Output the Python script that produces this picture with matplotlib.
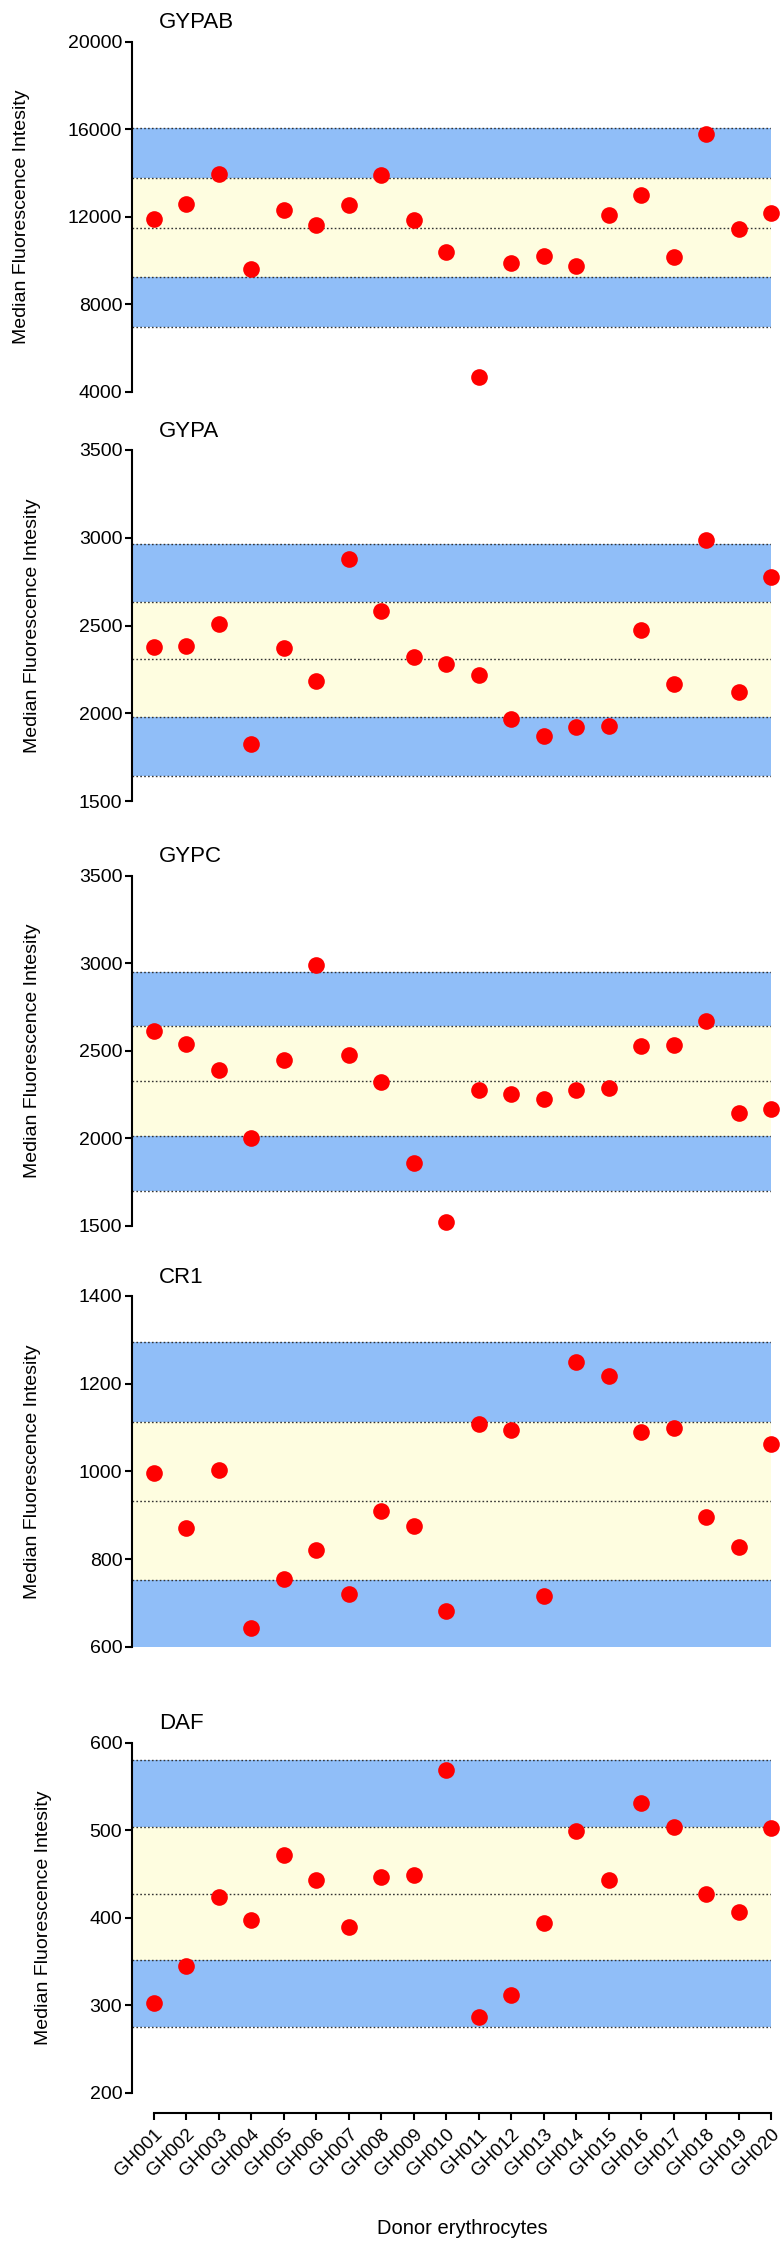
import matplotlib.pyplot as plt
from matplotlib.ticker import MultipleLocator

plt.rcParams['font.family'] = ['Liberation Sans', 'DejaVu Sans']

donors = ['GH001', 'GH002', 'GH003', 'GH004', 'GH005', 'GH006', 'GH007', 'GH008', 'GH009', 'GH010',
          'GH011', 'GH012', 'GH013', 'GH014', 'GH015', 'GH016', 'GH017', 'GH018', 'GH019', 'GH020']

# median fluorescence intensity per donor
gypab = [11900, 12600, 13950, 9600, 12300, 11600, 12550, 13900, 11850, 10400,
         4650, 9900, 10200, 9750, 12100, 13000, 10150, 15800, 11450, 12150]
gypa = [2380, 2385, 2510, 1825, 2370, 2185, 2880, 2585, 2320, 2280,
        2220, 1965, 1870, 1920, 1925, 2475, 2165, 2985, 2120, 2775]
gypc = [2615, 2537, 2390, 2002, 2446, 2988, 2478, 2324, 1860, 1523,
        2276, 2254, 2223, 2276, 2286, 2528, 2531, 2670, 2145, 2170]
cr1 = [997, 871, 1003, 643, 755, 820, 721, 910, 875, 681,
       1107, 1094, 716, 1249, 1217, 1090, 1100, 897, 828, 1063]
daf = [303, 345, 424, 397, 472, 443, 389, 446, 449, 569,
       286, 312, 394, 499, 443, 531, 504, 427, 407, 503]

# dotted reference lines (+2SD, +1SD, mean, -1SD, -2SD)
gypab_lines = [16040, 13780, 11480, 9230, 6960]
gypa_lines = [2965, 2635, 2307, 1977, 1645]
gypc_lines = [2950, 2640, 2330, 2012, 1700]
cr1_lines = [1294, 1113, 933, 752, 572]
daf_lines = [580, 504, 427, 352, 275]

names = ['GYPAB', 'GYPA', 'GYPC', 'CR1', 'DAF']
series = [gypab, gypa, gypc, cr1, daf]
lines = [gypab_lines, gypa_lines, gypc_lines, cr1_lines, daf_lines]
ylims = [(4000, 20000), (1500, 3500), (1500, 3500), (600, 1400), (200, 600)]
ysteps = [4000, 500, 500, 200, 100]

W, H = 782, 2242
fig = plt.figure(figsize=(W / 100, H / 100), dpi=100)

# axes top / bottom in pixels
tops = [41.7, 450, 875.7, 1296, 1742.7]
bottoms = [391.7, 801, 1226, 1646.7, 2092.7]
left, right = 132, 771

blue = '#90BEF8'
yellow = '#FEFDE0'
x = list(range(len(donors)))

for k in range(5):
    ax = fig.add_axes([left / W, 1 - bottoms[k] / H, (right - left) / W, (bottoms[k] - tops[k]) / H])
    l = lines[k]
    ax.axhspan(l[1], l[0], color=blue, lw=0, zorder=0)
    ax.axhspan(l[3], l[1], color=yellow, lw=0, zorder=0)
    ax.axhspan(l[4], l[3], color=blue, lw=0, zorder=0)
    for v in l:
        ax.axhline(v, color='#333333', lw=1.0, ls=(0, (1.2, 1.6)), zorder=1)
    ax.plot(x, series[k], 'o', color='#FF0000', ms=12, mew=0, zorder=3, clip_on=False)

    ax.set_xlim(-0.665, 19)
    ax.set_ylim(*ylims[k])
    ax.yaxis.set_major_locator(MultipleLocator(ysteps[k]))
    for s in ['top', 'right']:
        ax.spines[s].set_visible(False)
    ax.spines['left'].set_linewidth(1.5)
    ax.tick_params(axis='y', labelsize=14, width=1.5, length=5, pad=2)
    ax.set_ylabel('Median Fluorescence Intesity', fontsize=14, labelpad=27)
    ax.text(0.042, 1.054, names[k], transform=ax.transAxes, fontsize=16, va='center', ha='left')

    if k < 4:
        ax.spines['bottom'].set_visible(False)
        ax.set_xticks([])
    else:
        ax.spines['bottom'].set_position(('outward', 14.6))
        ax.spines['bottom'].set_bounds(0, 19)
        ax.spines['bottom'].set_linewidth(1.5)
        ax.set_xticks(x)
        ax.set_xticklabels(donors, rotation=45, ha='right', rotation_mode='anchor')
        ax.tick_params(axis='x', labelsize=13.5, width=1.5, length=5, pad=4)

fig.text(462 / W, 1 - 2228 / H, 'Donor erythrocytes', fontsize=14.5, ha='center', va='center')

fig.savefig('out.png', dpi=100)
